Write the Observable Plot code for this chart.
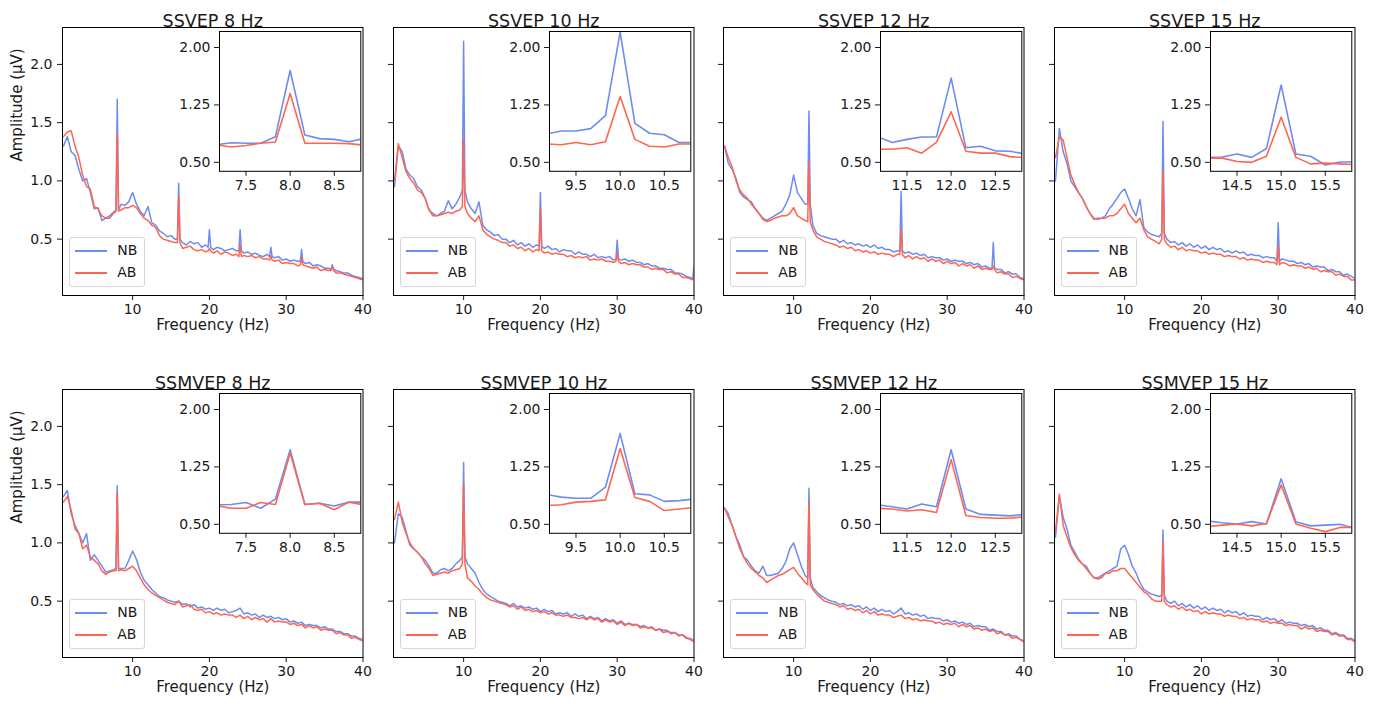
<!DOCTYPE html>
<html><head><meta charset="utf-8">
<script src="https://cdn.jsdelivr.net/npm/d3@7"></script>
<script src="https://cdn.jsdelivr.net/npm/@observablehq/plot@0.6"></script>
<style>
body{margin:0;background:#fff;}
#fig{position:relative;width:1387px;height:704px;font-family:"DejaVu Sans",sans-serif;color:#1a1a1a;overflow:hidden;}
.legend{position:absolute;border:1px solid #d6d6d6;border-radius:3px;background:rgba(255,255,255,0.85);width:76px;height:50px;font-size:14px;box-sizing:border-box;}
.legend .ln{position:absolute;left:5px;width:32px;height:2px;}
.legend .tx{position:absolute;left:47px;line-height:18px;}
</style></head><body><div id="fig"></div><script>
// ---------- data ----------
const titles = ["SSVEP 8 Hz","SSVEP 10 Hz","SSVEP 12 Hz","SSVEP 15 Hz","SSMVEP 8 Hz","SSMVEP 10 Hz","SSMVEP 12 Hz","SSMVEP 15 Hz"];
const stimFreqs = [8,10,12,15,8,10,12,15];
const seriesNames = ["NB","AB"];
// spectra on a 0.5 Hz grid, 1 .. 40 Hz (79 values)
const nbSSVEP8 = [1.30,1.38,1.25,1.22,1.10,1.00,1.02,0.90,0.76,0.77,
 0.66,0.68,0.70,0.73,0.75,0.80,0.79,0.82,0.90,0.80,
 0.74,0.70,0.78,0.64,0.62,0.57,0.55,0.52,0.53,0.50,
 0.50,0.47,0.45,0.48,0.46,0.47,0.43,0.45,0.43,0.41,
 0.43,0.42,0.40,0.41,0.42,0.40,0.40,0.38,0.39,0.37,
 0.38,0.36,0.35,0.37,0.35,0.34,0.35,0.32,0.33,0.31,
 0.32,0.31,0.31,0.29,0.30,0.27,0.28,0.27,0.25,0.25,
 0.24,0.23,0.22,0.21,0.21,0.19,0.18,0.17,0.16];
const abSSVEP8 = [1.38,1.42,1.43,1.30,1.20,1.05,0.95,0.93,0.78,0.76,
 0.70,0.68,0.68,0.72,0.74,0.75,0.77,0.77,0.79,0.77,
 0.72,0.68,0.66,0.62,0.60,0.53,0.50,0.49,0.48,0.47,
 0.47,0.42,0.43,0.44,0.41,0.40,0.41,0.39,0.40,0.38,
 0.40,0.37,0.39,0.38,0.36,0.37,0.35,0.36,0.35,0.36,
 0.34,0.35,0.33,0.33,0.32,0.31,0.32,0.29,0.30,0.29,
 0.29,0.27,0.28,0.27,0.26,0.25,0.26,0.23,0.24,0.23,
 0.23,0.21,0.21,0.20,0.19,0.18,0.17,0.16,0.15];
const nbSSVEP10 = [0.95,1.30,1.25,1.10,1.05,1.02,0.95,0.92,0.85,0.75,
 0.72,0.70,0.72,0.74,0.83,0.76,0.80,0.86,0.92,0.82,
 0.76,0.72,0.82,0.62,0.58,0.56,0.53,0.54,0.50,0.50,
 0.47,0.49,0.45,0.47,0.44,0.46,0.43,0.45,0.44,0.42,
 0.44,0.41,0.42,0.39,0.41,0.40,0.40,0.37,0.39,0.37,
 0.37,0.35,0.37,0.34,0.35,0.34,0.35,0.32,0.33,0.32,
 0.33,0.31,0.32,0.30,0.30,0.28,0.29,0.27,0.27,0.25,
 0.25,0.24,0.24,0.21,0.21,0.20,0.18,0.17,0.16];
const abSSVEP10 = [1.00,1.32,1.20,1.08,1.02,0.98,0.92,0.90,0.85,0.75,
 0.70,0.70,0.71,0.72,0.73,0.72,0.74,0.75,0.78,0.72,
 0.68,0.65,0.70,0.58,0.54,0.52,0.50,0.49,0.47,0.47,
 0.44,0.45,0.42,0.43,0.40,0.42,0.39,0.41,0.40,0.38,
 0.39,0.37,0.38,0.37,0.37,0.35,0.36,0.34,0.35,0.34,
 0.35,0.32,0.33,0.32,0.33,0.31,0.31,0.30,0.31,0.29,
 0.30,0.28,0.29,0.28,0.28,0.26,0.26,0.24,0.25,0.24,
 0.24,0.21,0.22,0.20,0.20,0.17,0.17,0.16,0.15];
const nbSSVEP12 = [1.30,1.15,1.10,1.02,0.90,0.86,0.84,0.82,0.76,0.72,
 0.68,0.66,0.68,0.70,0.72,0.74,0.80,0.88,1.05,0.90,
 0.85,0.80,0.80,0.62,0.55,0.53,0.52,0.51,0.50,0.50,
 0.47,0.49,0.46,0.47,0.45,0.46,0.44,0.45,0.43,0.45,
 0.42,0.43,0.41,0.41,0.39,0.40,0.40,0.38,0.39,0.37,
 0.38,0.36,0.37,0.34,0.35,0.34,0.34,0.32,0.33,0.31,
 0.32,0.31,0.31,0.29,0.30,0.28,0.29,0.26,0.27,0.25,
 0.25,0.24,0.24,0.21,0.22,0.20,0.20,0.17,0.16];
const abSSVEP12 = [1.30,1.20,1.12,1.00,0.92,0.88,0.85,0.80,0.76,0.72,
 0.67,0.65,0.66,0.68,0.69,0.70,0.70,0.72,0.77,0.70,
 0.68,0.66,0.65,0.58,0.52,0.50,0.48,0.47,0.46,0.45,
 0.43,0.44,0.42,0.43,0.40,0.41,0.39,0.40,0.38,0.39,
 0.37,0.38,0.37,0.37,0.35,0.37,0.37,0.34,0.36,0.33,
 0.35,0.33,0.34,0.31,0.33,0.31,0.32,0.29,0.31,0.29,
 0.30,0.27,0.29,0.27,0.28,0.25,0.27,0.24,0.25,0.24,
 0.24,0.21,0.22,0.20,0.20,0.17,0.18,0.16,0.15];
const nbSSVEP15 = [1.00,1.45,1.25,1.15,1.00,0.95,0.90,0.85,0.78,0.72,
 0.68,0.67,0.68,0.70,0.76,0.80,0.85,0.90,0.93,0.85,
 0.76,0.70,0.84,0.60,0.56,0.54,0.53,0.52,0.55,0.50,
 0.47,0.48,0.45,0.47,0.44,0.46,0.43,0.45,0.42,0.44,
 0.41,0.43,0.41,0.42,0.39,0.40,0.38,0.40,0.38,0.39,
 0.36,0.37,0.36,0.36,0.34,0.35,0.34,0.34,0.31,0.33,
 0.32,0.31,0.31,0.29,0.30,0.28,0.29,0.26,0.27,0.26,
 0.26,0.23,0.24,0.22,0.22,0.19,0.20,0.18,0.16];
const abSSVEP15 = [1.20,1.38,1.35,1.20,1.05,0.97,0.90,0.85,0.78,0.72,
 0.67,0.68,0.68,0.68,0.70,0.70,0.72,0.76,0.80,0.72,
 0.68,0.64,0.68,0.58,0.52,0.50,0.48,0.46,0.50,0.46,
 0.43,0.44,0.41,0.43,0.40,0.41,0.40,0.40,0.38,0.39,
 0.37,0.38,0.37,0.37,0.35,0.36,0.35,0.35,0.33,0.34,
 0.32,0.33,0.32,0.32,0.30,0.31,0.30,0.30,0.28,0.30,
 0.29,0.27,0.28,0.27,0.27,0.25,0.26,0.24,0.25,0.22,
 0.23,0.22,0.22,0.19,0.20,0.18,0.18,0.15,0.15];
const nbSSMVEP8 = [1.40,1.45,1.25,1.15,1.08,1.00,1.08,0.85,0.90,0.85,
 0.80,0.75,0.76,0.77,0.78,0.78,0.78,0.85,0.93,0.86,
 0.75,0.68,0.64,0.60,0.57,0.54,0.53,0.51,0.50,0.49,
 0.50,0.47,0.48,0.45,0.47,0.44,0.45,0.43,0.44,0.42,
 0.44,0.42,0.43,0.40,0.41,0.42,0.44,0.39,0.40,0.38,
 0.39,0.36,0.38,0.36,0.37,0.35,0.36,0.34,0.35,0.32,
 0.33,0.31,0.32,0.29,0.30,0.29,0.29,0.27,0.28,0.26,
 0.26,0.24,0.24,0.22,0.22,0.20,0.20,0.18,0.17];
const abSSMVEP8 = [1.35,1.40,1.28,1.12,1.08,0.95,0.98,0.88,0.85,0.82,
 0.76,0.73,0.75,0.76,0.76,0.77,0.76,0.78,0.80,0.76,
 0.70,0.64,0.60,0.57,0.55,0.53,0.51,0.49,0.48,0.47,
 0.50,0.45,0.46,0.47,0.43,0.42,0.43,0.40,0.41,0.39,
 0.40,0.38,0.39,0.38,0.38,0.36,0.38,0.35,0.37,0.34,
 0.36,0.34,0.35,0.32,0.35,0.32,0.33,0.32,0.32,0.30,
 0.31,0.29,0.30,0.27,0.29,0.27,0.28,0.25,0.26,0.25,
 0.25,0.22,0.23,0.21,0.21,0.18,0.19,0.17,0.16];
const nbSSMVEP10 = [1.00,1.25,1.22,1.10,0.98,0.95,0.92,0.88,0.85,0.80,
 0.74,0.74,0.77,0.78,0.76,0.78,0.82,0.85,0.88,0.82,
 0.78,0.74,0.66,0.60,0.56,0.54,0.52,0.50,0.49,0.48,
 0.46,0.48,0.45,0.46,0.44,0.45,0.43,0.44,0.41,0.43,
 0.41,0.42,0.39,0.40,0.39,0.40,0.37,0.39,0.37,0.38,
 0.35,0.37,0.35,0.36,0.33,0.35,0.33,0.34,0.31,0.33,
 0.30,0.31,0.30,0.30,0.28,0.29,0.27,0.28,0.25,0.26,
 0.25,0.25,0.22,0.23,0.21,0.21,0.18,0.18,0.16];
const abSSMVEP10 = [1.20,1.35,1.18,1.08,1.00,0.95,0.92,0.88,0.82,0.78,
 0.72,0.73,0.74,0.75,0.74,0.76,0.77,0.78,0.82,0.70,
 0.67,0.63,0.60,0.56,0.53,0.51,0.50,0.49,0.48,0.47,
 0.45,0.46,0.43,0.45,0.42,0.43,0.41,0.42,0.40,0.41,
 0.39,0.40,0.38,0.38,0.37,0.38,0.36,0.36,0.35,0.36,
 0.34,0.36,0.34,0.35,0.32,0.34,0.32,0.33,0.30,0.32,
 0.29,0.31,0.29,0.30,0.27,0.28,0.27,0.27,0.25,0.26,
 0.23,0.24,0.23,0.23,0.20,0.21,0.19,0.17,0.15];
const nbSSMVEP12 = [1.30,1.25,1.15,1.05,0.98,0.88,0.85,0.80,0.76,0.74,
 0.80,0.72,0.72,0.73,0.74,0.78,0.84,0.95,1.00,0.90,
 0.80,0.72,0.70,0.62,0.58,0.55,0.53,0.51,0.50,0.49,
 0.47,0.48,0.46,0.47,0.45,0.46,0.43,0.45,0.42,0.44,
 0.41,0.43,0.41,0.42,0.39,0.41,0.44,0.39,0.40,0.38,
 0.39,0.37,0.38,0.35,0.36,0.35,0.35,0.33,0.34,0.32,
 0.33,0.31,0.32,0.30,0.31,0.28,0.29,0.28,0.28,0.25,
 0.26,0.24,0.24,0.21,0.22,0.20,0.20,0.17,0.16];
const abSSMVEP12 = [1.30,1.22,1.15,1.05,0.95,0.88,0.82,0.78,0.75,0.72,
 0.70,0.66,0.68,0.70,0.72,0.73,0.75,0.77,0.79,0.74,
 0.70,0.66,0.64,0.60,0.56,0.53,0.50,0.49,0.48,0.47,
 0.45,0.46,0.43,0.44,0.42,0.43,0.40,0.42,0.39,0.41,
 0.38,0.39,0.38,0.38,0.36,0.37,0.38,0.35,0.36,0.34,
 0.35,0.33,0.34,0.33,0.33,0.31,0.32,0.30,0.31,0.30,
 0.31,0.28,0.30,0.28,0.29,0.26,0.27,0.25,0.26,0.24,
 0.25,0.22,0.23,0.21,0.21,0.18,0.19,0.17,0.15];
const nbSSMVEP15 = [1.05,1.40,1.22,1.12,0.98,0.92,0.86,0.82,0.80,0.74,
 0.70,0.70,0.72,0.74,0.76,0.78,0.80,0.95,0.98,0.90,
 0.80,0.74,0.66,0.60,0.58,0.56,0.55,0.54,0.55,0.50,
 0.48,0.50,0.46,0.48,0.45,0.47,0.44,0.46,0.43,0.45,
 0.42,0.44,0.42,0.43,0.40,0.42,0.40,0.41,0.38,0.40,
 0.37,0.38,0.37,0.37,0.34,0.36,0.34,0.35,0.32,0.34,
 0.31,0.32,0.31,0.31,0.29,0.30,0.28,0.29,0.26,0.27,
 0.25,0.25,0.22,0.23,0.21,0.21,0.18,0.18,0.16];
const abSSMVEP15 = [1.10,1.42,1.15,1.05,0.96,0.90,0.85,0.82,0.78,0.74,
 0.70,0.69,0.70,0.74,0.74,0.76,0.76,0.78,0.78,0.74,
 0.70,0.66,0.62,0.58,0.56,0.52,0.50,0.50,0.50,0.47,
 0.45,0.46,0.43,0.45,0.42,0.43,0.41,0.42,0.39,0.41,
 0.39,0.40,0.39,0.39,0.37,0.38,0.37,0.37,0.35,0.36,
 0.34,0.35,0.34,0.34,0.32,0.33,0.31,0.32,0.31,0.31,
 0.29,0.30,0.29,0.29,0.26,0.28,0.26,0.27,0.24,0.25,
 0.24,0.24,0.21,0.22,0.20,0.20,0.17,0.17,0.15];
// narrow peaks: [frequency, NB peak, AB peak]
const peaksSSVEP8 = [[8,1.70,1.41],[16,0.98,0.87],[20,0.58,0.42],[24,0.58,0.45],[28,0.43,0.36],[32,0.41,0.34],[36,0.28,0.26]];
const peaksSSVEP10 = [[10,2.20,1.36],[20,0.90,0.77],[30,0.49,0.38],[40,0.28,0.16]];
const peaksSSVEP12 = [[12,1.60,1.16],[24,0.91,0.59],[36,0.47,0.27]];
const peaksSSVEP15 = [[15,1.51,1.09],[30,0.64,0.45]];
const peaksSSMVEP8 = [[8,1.49,1.43]];
const peaksSSMVEP10 = [[10,1.69,1.50]];
const peaksSSMVEP12 = [[12,1.47,1.35]];
const peaksSSMVEP15 = [[15,1.11,1.01]];
// insets: 1/6 Hz bins from f0-5/6 to f0+5/6 (11 values)
const insetNbSSVEP8 = [0.73,0.756,0.75,0.75,0.835,1.70,0.856,0.81,0.80,0.77,0.81];
const insetAbSSVEP8 = [0.73,0.70,0.72,0.75,0.765,1.40,0.75,0.75,0.75,0.745,0.725];
const insetNbSSVEP10 = [0.87,0.91,0.91,0.94,1.11,2.20,1.01,0.88,0.86,0.76,0.76];
const insetAbSSVEP10 = [0.74,0.73,0.76,0.73,0.77,1.36,0.80,0.71,0.70,0.74,0.74];
const insetNbSSVEP12 = [0.835,0.76,0.80,0.83,0.83,1.60,0.69,0.71,0.65,0.645,0.61];
const insetAbSSVEP12 = [0.67,0.67,0.69,0.62,0.76,1.16,0.645,0.62,0.62,0.575,0.56];
const insetNbSSVEP15 = [0.565,0.57,0.61,0.565,0.68,1.51,0.61,0.58,0.465,0.505,0.505];
const insetAbSSVEP15 = [0.555,0.555,0.51,0.50,0.58,1.09,0.565,0.48,0.49,0.48,0.47];
const insetNbSSMVEP8 = [0.755,0.76,0.785,0.71,0.83,1.475,0.76,0.775,0.74,0.79,0.79];
const insetAbSSMVEP8 = [0.745,0.71,0.71,0.785,0.76,1.43,0.76,0.775,0.69,0.79,0.755];
const insetNbSSMVEP10 = [0.89,0.855,0.84,0.84,0.985,1.685,0.90,0.885,0.80,0.81,0.83];
const insetAbSSMVEP10 = [0.745,0.755,0.79,0.80,0.82,1.49,0.85,0.80,0.68,0.70,0.72];
const insetNbSSMVEP12 = [0.755,0.73,0.70,0.765,0.73,1.475,0.70,0.63,0.62,0.61,0.63];
const insetAbSSMVEP12 = [0.71,0.70,0.675,0.69,0.655,1.345,0.615,0.59,0.58,0.58,0.60];
const insetNbSSMVEP15 = [0.545,0.52,0.505,0.535,0.505,1.095,0.535,0.48,0.49,0.50,0.45];
const insetAbSSMVEP15 = [0.47,0.49,0.505,0.48,0.51,1.015,0.505,0.45,0.405,0.46,0.46];
const mainTicksY = [0.5,1.0,1.5,2.0];
const mainTicksX = [10,20,30,40];
const insetTicksY = [0.5,1.25,2.0];

// ---------- setup ----------
const NB_COLOR = "#6d8cf0", AB_COLOR = "#ff6650";
const FREQ = d3.range(79).map(i => 1 + i * 0.5);
const panels = [
  [nbSSVEP8, abSSVEP8, peaksSSVEP8, insetNbSSVEP8, insetAbSSVEP8],
  [nbSSVEP10, abSSVEP10, peaksSSVEP10, insetNbSSVEP10, insetAbSSVEP10],
  [nbSSVEP12, abSSVEP12, peaksSSVEP12, insetNbSSVEP12, insetAbSSVEP12],
  [nbSSVEP15, abSSVEP15, peaksSSVEP15, insetNbSSVEP15, insetAbSSVEP15],
  [nbSSMVEP8, abSSMVEP8, peaksSSMVEP8, insetNbSSMVEP8, insetAbSSMVEP8],
  [nbSSMVEP10, abSSMVEP10, peaksSSMVEP10, insetNbSSMVEP10, insetAbSSMVEP10],
  [nbSSMVEP12, abSSMVEP12, peaksSSMVEP12, insetNbSSMVEP12, insetAbSSMVEP12],
  [nbSSMVEP15, abSSMVEP15, peaksSSMVEP15, insetNbSSMVEP15, insetAbSSMVEP15]
];
const colLeft = [62.3, 392.7, 723.3, 1053.6];
const rowTop = [27.3, 389.3];
const AW = 300.5, AH = 268;
const fig = document.getElementById("fig");
const FS = 14, LFS = 15;

function buildSeries(vals, peaks, k) {
  const pk = new Map(peaks.map(p => [p[0], p[k]]));
  const out = [];
  FREQ.forEach((f, i) => {
    if (pk.has(f)) {
      out.push({f: f - 1/6, v: vals[i]}, {f, v: pk.get(f)}, {f: f + 1/6, v: vals[i]});
    } else out.push({f, v: vals[i]});
  });
  return out;
}
function place(el, left, top) {
  el.style.position = "absolute"; el.style.left = left + "px"; el.style.top = top + "px";
  fig.appendChild(el);
}
const baseStyle = {background: "transparent", overflow: "visible", fontFamily: "DejaVu Sans, sans-serif", fontSize: FS + "px", color: "#1a1a1a"};

panels.forEach((p, idx) => {
  const [nb, ab, peaks, inNb, inAb] = p;
  const col = idx % 4, row = Math.floor(idx / 4);
  const L = colLeft[col], T = rowTop[row];
  const mL = 50, mR = 5, mT = 30, mB = 45;
  const nbPts = buildSeries(nb, peaks, 1), abPts = buildSeries(ab, peaks, 2);
  const main = Plot.plot({
    width: AW + mL + mR, height: AH + mT + mB,
    marginLeft: mL, marginRight: mR, marginTop: mT, marginBottom: mB,
    style: baseStyle,
    x: {domain: [0.87, 40], label: null},
    y: {domain: [0.016, 2.317], label: null},
    marks: [
      Plot.line(nbPts, {x: "f", y: "v", stroke: NB_COLOR, strokeWidth: 1.5, clip: true}),
      Plot.line(abPts, {x: "f", y: "v", stroke: AB_COLOR, strokeWidth: 1.5, clip: true}),
      Plot.frame({stroke: "#000", strokeWidth: 1}),
      Plot.axisX({ticks: mainTicksX, tickSize: 5, tickPadding: 4, label: null, fontSize: FS}),
      Plot.axisY({ticks: mainTicksY, tickSize: 5, tickPadding: 5, label: null, fontSize: FS,
                  tickFormat: col === 0 ? d3.format(".1f") : () => ""}),
      Plot.text([titles[idx]], {frameAnchor: "top", dy: -13, fontSize: 17.5, text: d => d}),
      Plot.text(["Frequency (Hz)"], {frameAnchor: "bottom", dy: 34, fontSize: LFS, text: d => d}),
      col === 0 ? Plot.text(["Amplitude (μV)"], {frameAnchor: "left", dx: -45, rotate: -90, fontSize: LFS, text: d => d}) : null
    ]
  });
  place(main, L - mL, T - mT);

  // inset
  const f0 = stimFreqs[idx];
  const inF = d3.range(11).map(i => f0 - 5/6 + i / 6);
  const inData = [];
  inF.forEach((f, i) => { inData.push({f, v: inNb[i], s: seriesNames[0]}); });
  inF.forEach((f, i) => { inData.push({f, v: inAb[i], s: seriesNames[1]}); });
  const iL = 40, iR = 3, iT = 3, iB = 25, IW = 141.3, IH = 139.8;
  const inset = Plot.plot({
    width: IW + iL + iR, height: IH + iT + iB,
    marginLeft: iL, marginRight: iR, marginTop: iT, marginBottom: iB,
    style: baseStyle,
    x: {domain: [f0 - 0.8, f0 + 0.8], label: null},
    y: {domain: [0.383, 2.209], label: null},
    color: {domain: seriesNames, range: [NB_COLOR, AB_COLOR]},
    marks: [
      Plot.frame({fill: "white", stroke: "none"}),
      Plot.line(inData, {x: "f", y: "v", z: "s", stroke: "s", strokeWidth: 1.6, clip: true}),
      Plot.frame({stroke: "#000", strokeWidth: 1}),
      Plot.axisX({ticks: [f0 - 0.5, f0, f0 + 0.5], tickFormat: d3.format(".1f"), tickSize: 5, tickPadding: 4, label: null, fontSize: FS}),
      Plot.axisY({ticks: insetTicksY, tickFormat: d3.format(".2f"), tickSize: 5, tickPadding: 4, label: null, fontSize: FS})
    ]
  });
  place(inset, L + 156.7 - iL, T + 3.2 - iT);

  // legend
  const lg = document.createElement("div");
  lg.className = "legend";
  lg.innerHTML =
    `<div class="ln" style="top:12.4px;background:${NB_COLOR}"></div><div class="tx" style="top:3.5px">${seriesNames[0]}</div>` +
    `<div class="ln" style="top:33.7px;background:${AB_COLOR}"></div><div class="tx" style="top:24.8px">${seriesNames[1]}</div>`;
  place(lg, L + 7, T + AH - 8.4 - 50);
});
</script></body></html>
